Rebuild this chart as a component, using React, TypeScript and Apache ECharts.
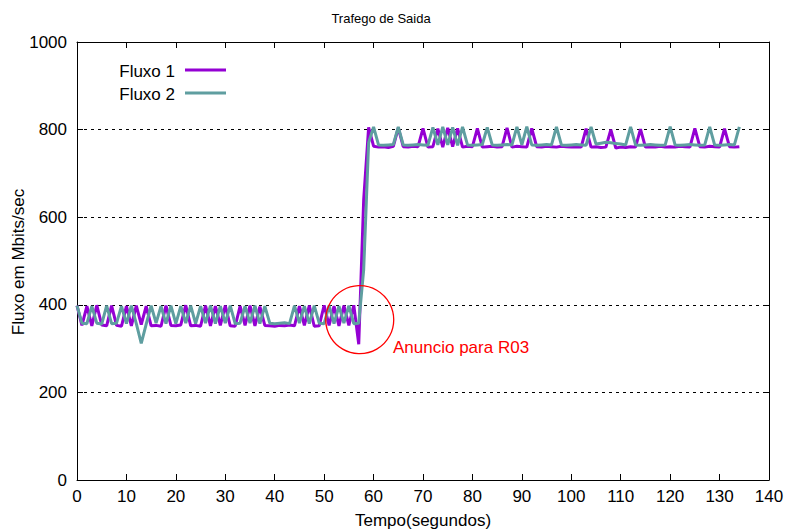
import React, { useEffect, useRef } from "react";
import * as echarts from "echarts";

const chartTitle = "Trafego de Saida";
const xName = "Tempo(segundos)";
const yName = "Fluxo em Mbits/sec";
const seriesNames = ["Fluxo 1", "Fluxo 2"];
const seriesColors = ["#9400d3", "#5f9ea0"];
const annotationText = "Anuncio para R03";
const annotationCoord = [57.2, 366];

// one sample per second, t = 0 .. 134
const fluxo1 = [
  398, 353, 397, 352, 399, 354, 352, 398, 353, 351,
  397, 352, 398, 355, 397, 352, 353, 351, 398, 353,
  352, 354, 399, 352, 353, 351, 398, 352, 397, 353,
  398, 352, 351, 397, 353, 398, 352, 396, 353, 352,
  351, 353, 352, 354, 352, 397, 353, 398, 351, 352,
  399, 353, 397, 352, 398, 353, 399, 310, 640, 805,
  762, 760, 761, 759, 762, 804, 761, 760, 762, 761,
  803, 760, 761, 802, 760, 804, 761, 803, 760, 762,
  761, 803, 760, 761, 762, 760, 761, 804, 760, 762,
  761, 760, 803, 761, 760, 762, 761, 760, 762, 761,
  760, 761, 760, 802, 760, 761, 759, 760, 800, 758,
  760, 759, 761, 760, 801, 760, 761, 760, 762, 760,
  761, 760, 762, 761, 760, 803, 761, 760, 762, 761,
  760, 802, 761, 760, 761,
];

const fluxo2 = [
  398, 358, 357, 397, 358, 356, 398, 357, 358, 397,
  357, 398, 357, 312, 356, 398, 358, 397, 357, 398,
  357, 397, 358, 398, 357, 397, 358, 398, 357, 397,
  358, 398, 357, 358, 397, 358, 398, 357, 397, 358,
  357, 358, 359, 357, 398, 358, 397, 357, 398, 358,
  357, 398, 357, 397, 358, 398, 357, 358, 480, 770,
  806, 765, 764, 765, 766, 806, 765, 764, 765, 766,
  765, 764, 805, 765, 806, 765, 805, 764, 806, 765,
  764, 765, 766, 805, 765, 764, 765, 766, 765, 806,
  765, 807, 765, 764, 765, 766, 765, 806, 765, 764,
  765, 766, 765, 764, 806, 767, 769, 771, 770, 768,
  767, 765, 806, 765, 764, 765, 766, 765, 764, 765,
  807, 765, 764, 765, 766, 765, 764, 765, 806, 765,
  764, 765, 766, 765, 806,
];

const xMin = 0;
const xMax = 140;
const xStep = 10;
const yMin = 0;
const yMax = 1000;
const yStep = 200;

export default function App() {
  const ref = useRef<HTMLDivElement>(null);

  useEffect(() => {
    if (!ref.current) return;
    const chart = echarts.init(ref.current, null, { renderer: "svg" });
    const font = "'Liberation Sans', Arial, sans-serif";
    const black = "#000";

    const baseX = {
      type: "value" as const,
      min: xMin,
      max: xMax,
      interval: xStep,
      axisLine: { show: true, onZero: false, lineStyle: { color: black, width: 1 } },
      axisTick: { show: true, inside: true, length: 6, lineStyle: { color: black } },
      splitLine: { show: false },
    };
    const baseY = {
      type: "value" as const,
      min: yMin,
      max: yMax,
      interval: yStep,
      axisLine: { show: true, onZero: false, lineStyle: { color: black, width: 1 } },
      axisTick: { show: true, inside: true, length: 6, lineStyle: { color: black } },
    };

    const toData = (arr: number[]) => arr.map((v, i) => [i, v]);

    chart.setOption({
      animation: false,
      backgroundColor: "#fff",
      grid: {
        left: 77,
        right: 29,
        top: 42,
        bottom: 49,
        containLabel: false,
        outerBoundsMode: "none",
      },
      xAxis: [
        {
          ...baseX,
          position: "bottom",
          name: xName,
          nameLocation: "middle",
          nameGap: 32,
          nameTextStyle: { color: black, fontSize: 17, fontFamily: font },
          axisLabel: {
            color: black,
            fontSize: 17,
            margin: 8,
            fontFamily: font,
            formatter: (v: number) => String(v),
          },
        },
        {
          ...baseX,
          position: "top",
          axisLabel: { show: false },
        },
      ],
      yAxis: [
        {
          ...baseY,
          position: "left",
          axisLabel: {
            color: black,
            fontSize: 17,
            margin: 10,
            fontFamily: font,
            formatter: (v: number) => String(v),
          },
          splitLine: { show: true, lineStyle: { color: black, width: 1, type: [3, 4] } },
        },
        {
          ...baseY,
          position: "right",
          axisLabel: { show: false },
          splitLine: { show: false },
        },
      ],
      series: [
        {
          name: seriesNames[0],
          type: "line",
          data: toData(fluxo1),
          showSymbol: false,
          symbol: "none",
          lineStyle: { color: seriesColors[0], width: 3 },
          itemStyle: { color: seriesColors[0] },
          z: 2,
        },
        {
          name: seriesNames[1],
          type: "line",
          data: toData(fluxo2),
          showSymbol: false,
          symbol: "none",
          lineStyle: { color: seriesColors[1], width: 3 },
          itemStyle: { color: seriesColors[1] },
          z: 3,
          markPoint: {
            silent: true,
            z: 5,
            data: [
              {
                coord: annotationCoord,
                symbol: "circle",
                symbolSize: 68,
                itemStyle: { color: "rgba(0,0,0,0)", borderColor: "#ff0000", borderWidth: 1.3 },
                label: { show: false },
              },
            ],
          },
        },
      ],
      graphic: [
        {
          type: "text",
          x: 381,
          y: 18,
          style: { text: chartTitle, fill: black, font: `13px ${font}`, textAlign: "center", textVerticalAlign: "middle" },
        },
        {
          type: "text",
          x: 18,
          y: 262,
          rotation: Math.PI / 2,
          style: { text: yName, fill: black, font: `17px ${font}`, textAlign: "center", textVerticalAlign: "middle" },
        },
        {
          type: "text",
          x: 175,
          y: 71,
          style: { text: seriesNames[0], fill: black, font: `17px ${font}`, textAlign: "right", textVerticalAlign: "middle" },
        },
        {
          type: "line",
          shape: { x1: 185, y1: 70, x2: 226, y2: 70 },
          style: { stroke: seriesColors[0], lineWidth: 3 },
        },
        {
          type: "text",
          x: 175,
          y: 94,
          style: { text: seriesNames[1], fill: black, font: `17px ${font}`, textAlign: "right", textVerticalAlign: "middle" },
        },
        {
          type: "line",
          shape: { x1: 185, y1: 93, x2: 226, y2: 93 },
          style: { stroke: seriesColors[1], lineWidth: 3 },
        },
        {
          type: "text",
          x: 393,
          y: 347,
          z: 10,
          style: { text: annotationText, fill: "#ff0000", font: `17px ${font}`, textAlign: "left", textVerticalAlign: "middle" },
        },
      ],
    });

    return () => chart.dispose();
  }, []);

  return (
    <div
      ref={ref}
      style={{ position: "fixed", left: 0, top: 0, width: 798, height: 529 }}
    />
  );
}
